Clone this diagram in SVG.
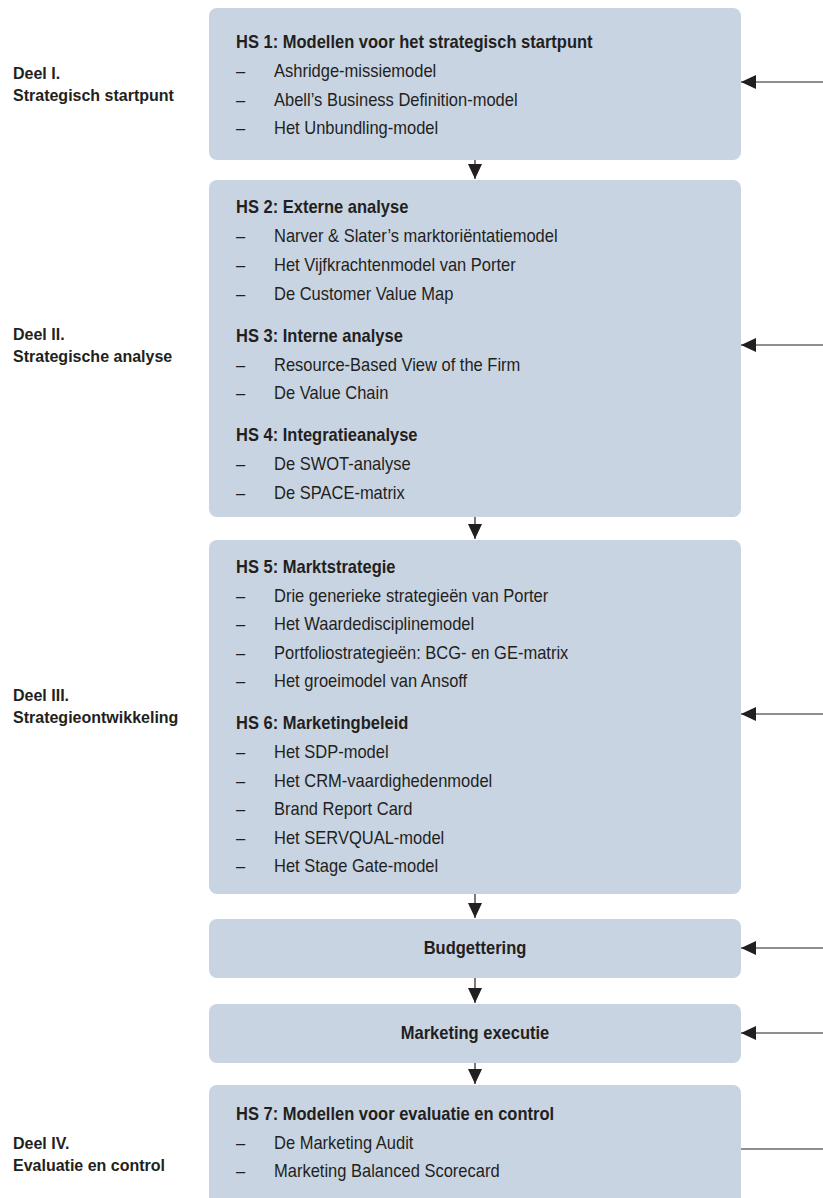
<svg xmlns="http://www.w3.org/2000/svg" width="823" height="1198" viewBox="0 0 823 1198">
<style>
.box{fill:#c9d4e3}
.t{font-family:"Liberation Sans",Arial,sans-serif;fill:#231f20}
.b{font-weight:bold;font-size:18.75px}
.r{font-size:18.75px}
.lab{font-family:"Liberation Sans",Arial,sans-serif;font-weight:bold;font-size:16px;fill:#231f20}
.ln{stroke:#231f20;stroke-width:1.2;fill:none}
.hd{fill:#231f20}
</style>
<defs>
<marker id="ah" viewBox="0 0 15 14" refX="15" refY="7" markerWidth="15" markerHeight="14" markerUnits="userSpaceOnUse" orient="auto">
<path d="M0,0 L15,7 L0,14 Z" class="hd"/>
</marker>
</defs>

<g id="labels">
<text class="lab" x="13" y="79">Deel I.</text>
<text class="lab" x="13" y="101">Strategisch startpunt</text>
<text class="lab" x="13" y="340">Deel II.</text>
<text class="lab" x="13" y="362">Strategische analyse</text>
<text class="lab" x="13" y="701">Deel III.</text>
<text class="lab" x="13" y="723">Strategieontwikkeling</text>
<text class="lab" x="13" y="1149">Deel IV.</text>
<text class="lab" x="13" y="1171">Evaluatie en control</text>
</g>

<g id="node-hs1">
<rect class="box" x="209" y="8" width="532" height="152" rx="8"/>
<g transform="scale(0.88,1)">
<text class="t b" x="268.2" y="48">HS 1: Modellen voor het strategisch startpunt</text>
<text class="t r" x="268.2" y="77">–</text><text class="t r" x="311.4" y="77">Ashridge-missiemodel</text>
<text class="t r" x="268.2" y="106">–</text><text class="t r" x="311.4" y="106">Abell’s Business Definition-model</text>
<text class="t r" x="268.2" y="134">–</text><text class="t r" x="311.4" y="134">Het Unbundling-model</text>
</g>
</g>

<g id="node-hs2-4">
<rect class="box" x="209" y="180" width="532" height="337" rx="8"/>
<g transform="scale(0.88,1)">
<text class="t b" x="268.2" y="213">HS 2: Externe analyse</text>
<text class="t r" x="268.2" y="242">–</text><text class="t r" x="311.4" y="242">Narver &amp; Slater’s marktoriëntatiemodel</text>
<text class="t r" x="268.2" y="271">–</text><text class="t r" x="311.4" y="271">Het Vijfkrachtenmodel van Porter</text>
<text class="t r" x="268.2" y="300">–</text><text class="t r" x="311.4" y="300">De Customer Value Map</text>
<text class="t b" x="268.2" y="342">HS 3: Interne analyse</text>
<text class="t r" x="268.2" y="371">–</text><text class="t r" x="311.4" y="371">Resource-Based View of the Firm</text>
<text class="t r" x="268.2" y="399">–</text><text class="t r" x="311.4" y="399">De Value Chain</text>
<text class="t b" x="268.2" y="441">HS 4: Integratieanalyse</text>
<text class="t r" x="268.2" y="470">–</text><text class="t r" x="311.4" y="470">De SWOT-analyse</text>
<text class="t r" x="268.2" y="499">–</text><text class="t r" x="311.4" y="499">De SPACE-matrix</text>
</g>
</g>

<g id="node-hs5-6">
<rect class="box" x="209" y="540" width="532" height="354" rx="8"/>
<g transform="scale(0.88,1)">
<text class="t b" x="268.2" y="573">HS 5: Marktstrategie</text>
<text class="t r" x="268.2" y="602">–</text><text class="t r" x="311.4" y="602">Drie generieke strategieën van Porter</text>
<text class="t r" x="268.2" y="630">–</text><text class="t r" x="311.4" y="630">Het Waardedisciplinemodel</text>
<text class="t r" x="268.2" y="659">–</text><text class="t r" x="311.4" y="659">Portfoliostrategieën: BCG- en GE-matrix</text>
<text class="t r" x="268.2" y="687">–</text><text class="t r" x="311.4" y="687">Het groeimodel van Ansoff</text>
<text class="t b" x="268.2" y="729">HS 6: Marketingbeleid</text>
<text class="t r" x="268.2" y="758">–</text><text class="t r" x="311.4" y="758">Het SDP-model</text>
<text class="t r" x="268.2" y="787">–</text><text class="t r" x="311.4" y="787">Het CRM-vaardighedenmodel</text>
<text class="t r" x="268.2" y="815">–</text><text class="t r" x="311.4" y="815">Brand Report Card</text>
<text class="t r" x="268.2" y="844">–</text><text class="t r" x="311.4" y="844">Het SERVQUAL-model</text>
<text class="t r" x="268.2" y="872">–</text><text class="t r" x="311.4" y="872">Het Stage Gate-model</text>
</g>
</g>

<g id="node-budget">
<rect class="box" x="209" y="919" width="532" height="59" rx="8"/>
<text class="t b" x="539.8" y="954" text-anchor="middle" transform="scale(0.88,1)">Budgettering</text>
</g>

<g id="node-exec">
<rect class="box" x="209" y="1004" width="532" height="59" rx="8"/>
<text class="t b" x="539.8" y="1039" text-anchor="middle" transform="scale(0.88,1)">Marketing executie</text>
</g>

<g id="node-hs7">
<rect class="box" x="209" y="1085" width="532" height="130" rx="8"/>
<g transform="scale(0.88,1)">
<text class="t b" x="268.2" y="1120">HS 7: Modellen voor evaluatie en control</text>
<text class="t r" x="268.2" y="1149">–</text><text class="t r" x="311.4" y="1149">De Marketing Audit</text>
<text class="t r" x="268.2" y="1177">–</text><text class="t r" x="311.4" y="1177">Marketing Balanced Scorecard</text>
</g>
</g>

<g id="connectors">
<path class="ln" d="M475,160 V179" marker-end="url(#ah)"/>
<path class="ln" d="M475,517 V539" marker-end="url(#ah)"/>
<path class="ln" d="M475,894 V918" marker-end="url(#ah)"/>
<path class="ln" d="M475,978 V1003" marker-end="url(#ah)"/>
<path class="ln" d="M475,1063 V1084" marker-end="url(#ah)"/>
<path class="ln" d="M823,82 H741" marker-end="url(#ah)"/>
<path class="ln" d="M823,345 H741" marker-end="url(#ah)"/>
<path class="ln" d="M823,714 H741" marker-end="url(#ah)"/>
<path class="ln" d="M823,948 H741" marker-end="url(#ah)"/>
<path class="ln" d="M823,1033 H741" marker-end="url(#ah)"/>
<path class="ln" d="M823,1149 H741"/>
</g>
</svg>
